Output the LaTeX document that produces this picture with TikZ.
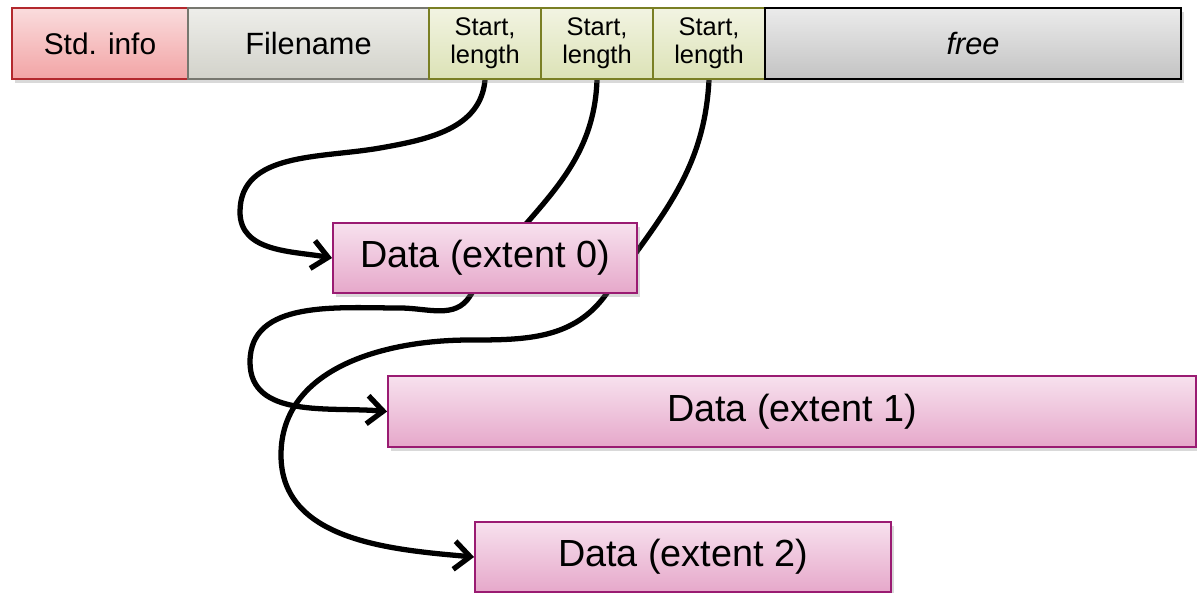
\documentclass[tikz,border=0pt]{standalone}
\usepackage{fontspec}
\setmainfont{Liberation Sans}
\usetikzlibrary{arrows.meta,shadows}
\pgfdeclarelayer{bg}
\pgfsetlayers{bg,main}
\definecolor{redtop}{HTML}{FADCDD}
\definecolor{redbot}{HTML}{F2A4A5}
\definecolor{redline}{HTML}{B3282D}
\definecolor{graytop}{HTML}{EEEEEA}
\definecolor{graybot}{HTML}{D2D2CA}
\definecolor{grayline}{HTML}{77776F}
\definecolor{grntop}{HTML}{F2F4E2}
\definecolor{grnbot}{HTML}{DCE2B6}
\definecolor{grnline}{HTML}{7A7F24}
\definecolor{freetop}{HTML}{EBEBEB}
\definecolor{freebot}{HTML}{C3C3C3}
\definecolor{pinktop}{HTML}{F7E1EE}
\definecolor{pinkbot}{HTML}{E6A8CA}
\definecolor{pinkline}{HTML}{9A1B72}
\tikzset{
  cell/.style={rectangle, inner sep=0pt, line width=1.1pt, minimum height=1.42cm,
    drop shadow={opacity=0.3, shadow xshift=1.5pt, shadow yshift=-2pt}},
  stdcell/.style={cell, draw=redline, top color=redtop, bottom color=redbot, font=\fontsize{17}{20}\selectfont},
  namecell/.style={cell, draw=grayline, top color=graytop, bottom color=graybot, font=\fontsize{17.5}{20}\selectfont},
  extcell/.style={cell, draw=grnline, top color=grntop, bottom color=grnbot, align=center, font=\fontsize{14.5}{16}\selectfont, minimum width=2.24cm},
  freecell/.style={cell, draw=black, top color=freetop, bottom color=freebot, font=\fontsize{17.5}{20}\selectfont\itshape},
  datacell/.style={cell, draw=pinkline, top color=pinktop, bottom color=pinkbot, font=\fontsize{21.5}{24}\selectfont, minimum height=1.4cm},
  link/.style={line width=3pt, -{Straight Barb[length=9pt,width=16pt]}}
}
\begin{document}
\begin{tikzpicture}[x=0.02cm,y=-0.02cm]
\useasboundingbox (0,0) rectangle (1197,592);
\node[stdcell, minimum width=3.52cm] (std) at (100,43.5) {Std. info};
\node[namecell, minimum width=4.82cm] (fname) at (308.5,43.5) {Filename};
\node[extcell] (s1) at (485,43.5) {Start,\\length};
\node[extcell] (s2) at (597,43.5) {Start,\\length};
\node[extcell] (s3) at (709,43.5) {Start,\\length};
\node[freecell, minimum width=8.32cm] (free) at (973,43.5) {free};
\node[datacell, minimum width=6.08cm] (e0) at (485,258) {Data (extent 0)};
\node[datacell, minimum width=16.16cm, minimum height=1.42cm] (e1) at (792,411.5) {Data (extent 1)};
\node[datacell, minimum width=8.32cm] (e2) at (683,557) {Data (extent 2)};
\begin{pgfonlayer}{bg}
\coordinate (a1) at (380,148);
\coordinate (a2) at (240,212);
\coordinate (b1) at (470,296);
\coordinate (b2) at (400,308);
\coordinate (b3) at (250,362);
\coordinate (c1) at (607,293);
\coordinate (c2) at (470,340);
\coordinate (c3) at (281,455);
\draw[link] (s1.south) to[out=-95,in=10] (a1) to[out=190,in=90] (a2) to[out=-90,in=170] (e0.west);
\draw[link] (s2.south) to[out=-92,in=58] (b1) to[out=238,in=0] (b2) to[out=180,in=90] (b3) to[out=-90,in=175] (e1.west);
\draw[link] (s3.south) to[out=-93,in=55] (c1) to[out=235,in=0] (c2) to[out=180,in=90] (c3) to[out=-90,in=175] (e2.west);
\end{pgfonlayer}
\end{tikzpicture}
\end{document}
